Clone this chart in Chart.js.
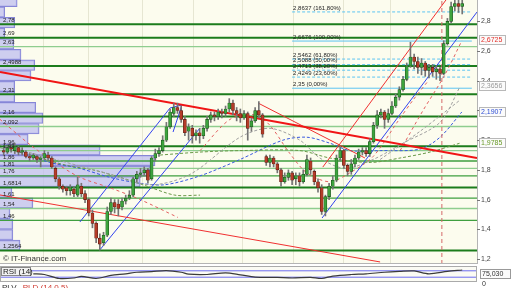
<!DOCTYPE html>
<html>
<head>
<meta charset="utf-8">
<script src="https://cdn.jsdelivr.net/npm/chart.js@4.4.0/dist/chart.umd.min.js"></script>
<style>
html, body { margin: 0; padding: 0; width: 512px; height: 288px; overflow: hidden; background: #fff; font-family: "Liberation Sans", Arial, sans-serif; }
#main { position: absolute; left: 0; top: 0; }
#rsi { position: absolute; left: 0; top: 266px; }
#foot { position: absolute; left: 2px; top: 283px; font-size: 8px; color: #333; white-space: nowrap; }
#foot span { color: #d03a30; margin-left: 4px; }
</style>
</head>
<body>
<canvas id="main" width="512" height="264"></canvas>
<canvas id="rsi" width="512" height="22"></canvas>
<div id="foot">PLV <span>PLD (14,0,5)</span></div>
<script>
// candles, one per session
const candleOpen = [
  1.93, 1.92, 1.95, 1.93, 1.95, 1.92, 1.92, 1.89, 1.88, 1.89,
  1.87, 1.88, 1.90, 1.88, 1.81, 1.74, 1.69, 1.68, 1.66, 1.67,
  1.63, 1.69, 1.64, 1.60, 1.51, 1.44, 1.34, 1.31, 1.36, 1.52,
  1.58, 1.57, 1.55, 1.59, 1.61, 1.63, 1.74, 1.77, 1.78, 1.80,
  1.74, 1.88, 1.91, 1.93, 2.00, 2.09, 2.18, 2.22, 2.20, 2.14,
  2.06, 2.08, 2.03, 2.05, 2.03, 2.08, 2.14, 2.17, 2.16, 2.19,
  2.18, 2.21, 2.25, 2.20, 2.18, 2.15, 2.18, 2.09, 2.13, 2.20,
  2.17, 1.89, 1.85, 1.88, 1.84, 1.80, 1.72, 1.75, 1.78, 1.74,
  1.76, 1.72, 1.77, 1.86, 1.79, 1.72, 1.68, 1.52, 1.62, 1.69,
  1.73, 1.88, 1.93, 1.83, 1.79, 1.84, 1.88, 1.92, 1.93, 1.91,
  1.99, 2.10, 2.17, 2.19, 2.14, 2.18, 2.23, 2.29, 2.34, 2.41,
  2.50, 2.56, 2.53, 2.49, 2.52, 2.47, 2.49, 2.46, 2.48, 2.45,
  2.65, 2.80, 2.90, 2.92, 2.90
];
const candleClose = [
  1.92, 1.95, 1.94, 1.96, 1.92, 1.93, 1.89, 1.88, 1.90, 1.87,
  1.88, 1.91, 1.88, 1.82, 1.74, 1.69, 1.67, 1.66, 1.68, 1.64,
  1.70, 1.64, 1.60, 1.51, 1.44, 1.34, 1.30, 1.36, 1.52, 1.58,
  1.55, 1.54, 1.59, 1.61, 1.63, 1.74, 1.77, 1.78, 1.80, 1.73,
  1.88, 1.91, 1.93, 2.00, 2.09, 2.19, 2.22, 2.20, 2.14, 2.05,
  2.09, 2.03, 2.05, 2.03, 2.08, 2.14, 2.17, 2.16, 2.19, 2.18,
  2.21, 2.25, 2.20, 2.18, 2.15, 2.18, 2.08, 2.13, 2.20, 2.17,
  2.04, 1.85, 1.88, 1.84, 1.80, 1.72, 1.75, 1.78, 1.73, 1.76,
  1.72, 1.77, 1.87, 1.80, 1.72, 1.68, 1.52, 1.62, 1.69, 1.73,
  1.88, 1.93, 1.83, 1.79, 1.84, 1.88, 1.92, 1.93, 1.91, 1.99,
  2.10, 2.17, 2.19, 2.14, 2.18, 2.23, 2.29, 2.34, 2.41, 2.50,
  2.56, 2.53, 2.49, 2.52, 2.47, 2.49, 2.46, 2.48, 2.45, 2.65,
  2.80, 2.90, 2.92, 2.90, 2.92
];
const candleHigh = [
  1.95, 1.96, 1.97, 1.98, 1.96, 1.95, 1.93, 1.91, 1.91, 1.90,
  1.89, 1.93, 1.92, 1.89, 1.82, 1.75, 1.70, 1.69, 1.70, 1.69,
  1.75, 1.71, 1.66, 1.61, 1.53, 1.45, 1.37, 1.38, 1.55, 1.61,
  1.60, 1.60, 1.61, 1.63, 1.66, 1.75, 1.79, 1.81, 1.82, 1.81,
  1.89, 1.94, 1.95, 2.03, 2.12, 2.21, 2.25, 2.25, 2.23, 2.16,
  2.11, 2.10, 2.07, 2.08, 2.10, 2.16, 2.19, 2.19, 2.21, 2.21,
  2.23, 2.28, 2.27, 2.22, 2.21, 2.20, 2.19, 2.15, 2.22, 2.26,
  2.18, 1.90, 1.90, 1.89, 1.85, 1.81, 1.78, 1.80, 1.79, 1.78,
  1.78, 1.80, 1.90, 1.88, 1.80, 1.74, 1.70, 1.63, 1.71, 1.76,
  1.90, 1.96, 1.94, 1.84, 1.87, 1.90, 1.94, 1.95, 1.95, 2.01,
  2.12, 2.20, 2.21, 2.20, 2.21, 2.26, 2.31, 2.36, 2.43, 2.52,
  2.66, 2.58, 2.56, 2.55, 2.53, 2.51, 2.51, 2.50, 2.49, 2.67,
  2.82, 2.93, 2.95, 2.96, 2.95
];
const candleLow = [
  1.90, 1.91, 1.92, 1.91, 1.90, 1.90, 1.88, 1.86, 1.87, 1.85,
  1.82, 1.87, 1.86, 1.81, 1.72, 1.67, 1.65, 1.63, 1.63, 1.62,
  1.62, 1.62, 1.58, 1.49, 1.41, 1.31, 1.26, 1.29, 1.35, 1.50,
  1.51, 1.49, 1.53, 1.57, 1.60, 1.62, 1.72, 1.75, 1.76, 1.71,
  1.73, 1.86, 1.89, 1.92, 1.99, 2.08, 2.16, 2.18, 2.12, 2.03,
  2.00, 1.98, 2.00, 1.98, 2.01, 2.06, 2.12, 2.13, 2.14, 2.15,
  2.16, 2.19, 2.17, 2.13, 2.12, 2.14, 2.00, 2.06, 2.12, 2.15,
  2.02, 1.83, 1.82, 1.82, 1.78, 1.69, 1.71, 1.73, 1.70, 1.70,
  1.69, 1.71, 1.76, 1.77, 1.70, 1.65, 1.50, 1.49, 1.60, 1.67,
  1.72, 1.86, 1.81, 1.76, 1.77, 1.82, 1.87, 1.90, 1.89, 1.89,
  1.98, 2.08, 2.15, 2.08, 2.12, 2.17, 2.22, 2.27, 2.33, 2.40,
  2.49, 2.48, 2.45, 2.44, 2.43, 2.42, 2.43, 2.41, 2.40, 2.44,
  2.64, 2.79, 2.87, 2.86, 2.85
];

// volume at price (left histogram)
const volPrices = [1.292, 1.363, 1.435, 1.506, 1.577, 1.649, 1.720, 1.791, 1.863, 1.934, 2.005, 2.077,
                   2.148, 2.220, 2.291, 2.362, 2.434, 2.505, 2.577, 2.648, 2.720, 2.791, 2.863, 2.934];
const volAmounts = [4.2, 2.7, 2.7, 2.1, 6.9, 2.5, 29.4, 31.4, 32.5, 21, 5.9, 8.2,
                    9, 7.5, 3.1, 3.1, 6.5, 7.3, 4.4, 2.9, 1, 3.1, 1, 3.6];

// horizontal support / resistance levels
const levelThick = [2.78, 2.69, 2.4988, 2.31, 2.16, 1.96, 1.6814, 1.2564];
const levelMid = [1.86, 1.76, 1.61, 1.46];
const levelLight = [2.63, 2.092, 1.93, 1.81, 1.54];

// fibonacci retracement
const fibValues = [2.8637, 2.6676, 2.5462, 2.5088, 2.4713, 2.4249, 2.35];
const fibPercents = ['161,80%', '100,00%', '61,80%', '50,00%', '38,20%', '23,60%', '0,00%'];
const fibSpan = [78, 126.6];

// trend lines [session, price]
const trendRedMain = [[-1, 2.459], [128, 1.880]];
const trendRedLow = [[-1, 1.631], [101.8, 1.180]];
const trendRedPeak = [[68.8, 2.250], [97.7, 1.880]];
const trendRedSteep = [[86.3, 1.819], [119.6, 2.944]];
const trendBlueLow = [[26.0, 1.261], [53.1, 2.082]];
const trendBlueHigh = [[20.6, 1.449], [45.0, 2.217]];
const trendBlueTip = [[45.0, 2.217], [48.2, 2.237], [45.8, 2.055]];
const trendBlueRight = [[86.1, 1.476], [128, 2.863]];

// dashed indicator curves
const curveBlue = [[4.4, 1.92], [12.5, 1.85], [20.6, 1.81], [28.7, 1.75], [36.9, 1.71], [43.6, 1.70], [53.1, 1.76], [63.9, 1.87],
                   [75.5, 2.00], [82, 2.02], [88.2, 1.98], [93.6, 1.93], [101.8, 1.93], [112.6, 1.94], [118, 2.02], [123.9, 2.19]];
const curveGreenA = [[-1, 1.95], [7.1, 1.90], [17.1, 1.83], [24.1, 1.80], [31.5, 1.75], [38.8, 1.69], [46.3, 1.63], [53.1, 1.63]];
const curveGreenB = [[42.3, 1.90], [53.1, 1.92], [63.9, 1.93], [80.1, 1.93], [88.2, 1.88], [99.1, 1.85], [107.2, 1.88], [115.3, 1.92], [123.4, 1.98]];
const curveGrayA = [[-1, 1.97], [12.5, 1.88], [26, 1.79], [39.6, 1.70], [50.4, 1.77], [63.9, 2.02], [72, 2.08], [80.1, 2.00],
                    [85.5, 1.88], [92.3, 1.81], [99.9, 1.87], [108, 1.98], [118, 2.12], [123.4, 2.36]];
const curveGrayB = [[101.8, 1.87], [112.6, 2.06], [123.4, 2.27]];
const curveRedA = [[-1, 2.14], [7.1, 1.97], [13.9, 1.85], [20.6, 1.75], [28.7, 1.68], [36.9, 1.60], [47.1, 1.48]];
const curveRedB = [[53.1, 1.93], [61.2, 2.14], [68, 2.17], [72, 2.10], [77.4, 1.91], [82, 1.78], [88.2, 1.72], [93.6, 1.78],
                   [99.9, 1.89], [106.4, 2.12], [110.7, 2.27], [114.5, 2.39]];
const curveRedC = [[107.2, 1.93], [113.4, 2.20], [119.3, 2.44], [123.9, 2.67]];

const markerSession = 118.5;
const gridMarks = [10.6, 22.8, 37.4, 51.2, 64.4, 78.2, 91.8, 104.5];

// right axis
const axisTicks = [1.2, 1.4, 1.6, 1.8, 2.0, 2.2, 2.4, 2.6, 2.8];
const markerValues = [2.6725, 2.3656, 2.1907, 1.9785];

// RSI (14)
const rsiX = [8, 11, 15, 19, 21, 25, 29, 33, 36, 40, 44, 48, 50, 55, 60, 64, 68, 74, 78, 83, 86, 89, 94, 98, 103, 107, 111, 115, 120, 124];
const rsiValues = [51, 47, 22, 25, 35, 22, 41, 51, 61, 65, 71, 61, 49, 47, 57, 45, 31, 29, 25, 29, 22, 37, 47, 51, 61, 66, 69, 51, 66, 75];
const rsiBands = [70, 30];
const rsiLast = 75.03;

const X_MIN = -1, X_MAX = 128, Y_MIN = 1.1663, Y_MAX = 2.944;
const comma = v => String(v).replace('.', ',');
const pts = arr => arr.map(([x, y]) => ({ x, y }));

function lineDs(data, color, width, dash, order, tension) {
  return {
    type: 'line', data: pts(data), borderColor: color, borderWidth: width,
    borderDash: dash || [], pointRadius: 0, fill: false, tension: tension || 0,
    order: order, xAxisID: 'x', yAxisID: 'y'
  };
}

const datasets = [];
datasets.push({
  type: 'bar', indexAxis: 'y', xAxisID: 'xv', yAxisID: 'yv',
  data: volPrices.map((p, i) => ({ x: volAmounts[i], y: p })),
  backgroundColor: 'rgba(188,188,240,0.72)', borderColor: '#8686d6', borderWidth: 1,
  barPercentage: 1, categoryPercentage: 1, grouped: false, order: 10
});
levelLight.forEach(v => datasets.push(lineDs([[X_MIN, v], [X_MAX, v]], '#8fcd8f', 1.4, null, 9)));
levelMid.forEach(v => datasets.push(lineDs([[X_MIN, v], [X_MAX, v]], '#3f9f3f', 1.3, null, 9)));
levelThick.forEach(v => datasets.push(lineDs([[X_MIN, v], [X_MAX, v]], '#1c7c1c', 2, null, 9)));
fibValues.forEach((v, i) => {
  const solid = fibPercents[i] === '100,00%' || fibPercents[i] === '0,00%';
  datasets.push(lineDs([[fibSpan[0], v], [fibSpan[1], v]], '#5cc4f2', 1, solid ? null : [3, 2], 8));
});
datasets.push(lineDs(curveGrayA, '#a0a0a0', 1, [3, 2], 7, 0.3));
datasets.push(lineDs(curveGrayB, '#a0a0a0', 1, [3, 2], 7, 0.3));
datasets.push(lineDs(curveGreenA, '#6a9a48', 1, [3, 2], 7, 0.3));
datasets.push(lineDs(curveGreenB, '#6a9a48', 1, [3, 2], 7, 0.3));
datasets.push(lineDs(curveBlue, '#3a5ae0', 1, [3, 2], 7, 0.3));
datasets.push(lineDs(curveRedA, '#e36060', 1, [3, 3], 7, 0.3));
datasets.push(lineDs(curveRedB, '#e36060', 1, [3, 3], 7, 0.3));
datasets.push(lineDs(curveRedC, '#e36060', 1, [3, 3], 7, 0.3));
datasets.push(lineDs([[markerSession, Y_MIN], [markerSession, Y_MAX]], '#d46a6a', 1, [4, 3], 6));
datasets.push(lineDs(trendRedLow, '#f03030', 1, null, 5));
datasets.push(lineDs(trendRedPeak, '#f03030', 1, null, 5));
datasets.push(lineDs(trendRedSteep, '#f03030', 1, null, 5));
datasets.push(lineDs(trendBlueLow, '#3344ee', 1, null, 5));
datasets.push(lineDs(trendBlueHigh, '#3344ee', 1, null, 5));
datasets.push(lineDs(trendBlueTip, '#3344ee', 1, null, 5));
datasets.push(lineDs(trendBlueRight, '#3344ee', 1, null, 5));
datasets.push(lineDs(trendRedMain, '#f01515', 2, null, 4));

const idx = candleOpen.map((_, i) => i);
const isUp = i => candleClose[i] >= candleOpen[i];
datasets.push({
  type: 'bar', xAxisID: 'x', yAxisID: 'y',
  data: idx.map(i => ({ x: i, y: [candleLow[i], candleHigh[i]] })),
  backgroundColor: '#747474', barThickness: 1, grouped: false, order: 2
});
datasets.push({
  type: 'bar', xAxisID: 'x', yAxisID: 'y',
  data: idx.map(i => ({ x: i, y: [Math.min(candleOpen[i], candleClose[i]), Math.max(candleOpen[i], candleClose[i])] })),
  backgroundColor: c => isUp(c.dataIndex) ? '#3da33d' : '#b43c28',
  borderColor: c => isUp(c.dataIndex) ? '#1a4f1a' : '#5a1a10',
  borderWidth: 0.6, borderSkipped: false, barThickness: 3, minBarLength: 1, grouped: false, order: 1
});

const mainOverlay = {
  id: 'mainOverlay',
  beforeDatasetsDraw(chart) {
    const { ctx, chartArea: a, scales } = chart;
    ctx.save();
    ctx.fillStyle = '#fcfcee';
    ctx.fillRect(a.left, a.top, a.right - a.left, a.bottom - a.top);
    ctx.strokeStyle = '#e6e6d2';
    ctx.lineWidth = 1;
    gridMarks.forEach(v => {
      const px = Math.round(scales.x.getPixelForValue(v)) + 0.5;
      ctx.beginPath(); ctx.moveTo(px, a.top); ctx.lineTo(px, a.bottom); ctx.stroke();
    });
    ctx.restore();
  },
  afterDatasetsDraw(chart) {
    const { ctx, chartArea: a, scales } = chart;
    const y = scales.y;
    ctx.save();
    // level labels on the left
    ctx.font = '6px "Liberation Sans", Arial, sans-serif';
    ctx.fillStyle = '#222';
    ctx.textBaseline = 'bottom';
    ctx.textAlign = 'left';
    [...levelThick, ...levelMid, ...levelLight].forEach(v => {
      ctx.fillText(comma(v), 3, y.getPixelForValue(v) - 1);
    });
    // fibonacci labels
    const fx = scales.x.getPixelForValue(fibSpan[0]) + 1;
    fibValues.forEach((v, i) => {
      ctx.fillText(comma(v) + ' (' + fibPercents[i] + ')', fx, y.getPixelForValue(v) - 1);
    });
    // copyright
    ctx.font = '8px "Liberation Sans", Arial, sans-serif';
    ctx.fillStyle = '#333';
    ctx.textBaseline = 'middle';
    ctx.fillText('\u00a9 IT-Finance.com', 3, a.bottom - 5);
    // frame + right axis
    ctx.strokeStyle = '#b4b4b4';
    ctx.lineWidth = 1;
    ctx.beginPath();
    ctx.moveTo(a.right + 0.5, a.top); ctx.lineTo(a.right + 0.5, a.bottom);
    ctx.moveTo(a.left, a.bottom - 0.5); ctx.lineTo(a.right, a.bottom - 0.5);
    ctx.stroke();
    ctx.font = '7px "Liberation Sans", Arial, sans-serif';
    ctx.fillStyle = '#444';
    ctx.strokeStyle = '#777';
    axisTicks.forEach(v => {
      const py = Math.round(y.getPixelForValue(v)) + 0.5;
      ctx.beginPath(); ctx.moveTo(a.right, py); ctx.lineTo(a.right + 3, py); ctx.stroke();
      ctx.fillText(v.toFixed(1).replace('.', ','), a.right + 4, py);
    });
    const markerColors = ['#e3302a', '#9a9a9a', '#2f4fd4', '#6a9a2a'];
    markerValues.forEach((v, i) => {
      const py = Math.round(y.getPixelForValue(v));
      ctx.fillStyle = '#fbfbfb';
      ctx.fillRect(a.right + 2, py - 4.5, 26, 9);
      ctx.strokeStyle = '#b8b8b8';
      ctx.strokeRect(a.right + 2.5, py - 4.5, 26, 9);
      ctx.fillStyle = markerColors[i];
      ctx.fillText(comma(v), a.right + 4, py);
    });
    ctx.restore();
  }
};

new Chart(document.getElementById('main'), {
  type: 'line',
  data: { datasets },
  options: {
    responsive: false, animation: false, devicePixelRatio: 1,
    layout: { padding: { left: 0, right: 35, top: 0, bottom: 0 } },
    plugins: { legend: { display: false }, tooltip: { enabled: false } },
    scales: {
      x: { type: 'linear', min: X_MIN, max: X_MAX, offset: false, display: false },
      xv: { type: 'linear', min: 0, max: 100, offset: false, display: false },
      y: { type: 'linear', min: Y_MIN, max: Y_MAX, offset: false, display: false },
      yv: { type: 'linear', min: Y_MIN, max: Y_MAX, offset: false, display: false }
    }
  },
  plugins: [mainOverlay]
});

const rsiOverlay = {
  id: 'rsiOverlay',
  beforeDatasetsDraw(chart) {
    const { ctx, chartArea: a } = chart;
    ctx.save();
    ctx.fillStyle = '#fbfbf4';
    ctx.fillRect(a.left, a.top, a.right - a.left, a.bottom - a.top);
    ctx.restore();
  },
  afterDatasetsDraw(chart) {
    const { ctx, chartArea: a, scales } = chart;
    ctx.save();
    ctx.strokeStyle = '#aaa';
    ctx.lineWidth = 1;
    ctx.strokeRect(a.left + 0.5, a.top + 0.5, a.right - a.left - 1, a.bottom - a.top - 1);
    ctx.fillStyle = '#f2f2f2';
    ctx.fillRect(a.left + 1, a.top + 1, 29, 8);
    ctx.strokeStyle = '#888';
    ctx.strokeRect(a.left + 1.5, a.top + 1.5, 29, 8);
    ctx.font = '8px "Liberation Sans", Arial, sans-serif';
    ctx.fillStyle = '#222';
    ctx.textBaseline = 'middle';
    ctx.fillText('RSI (14)', a.left + 3, a.top + 5.5);
    const py = scales.y.getPixelForValue(rsiLast);
    ctx.fillStyle = '#fbfbfb';
    ctx.fillRect(a.right + 3, py - 1, 30, 9);
    ctx.strokeStyle = '#999';
    ctx.strokeRect(a.right + 3.5, py - 0.5, 30, 9);
    ctx.font = '7px "Liberation Sans", Arial, sans-serif';
    ctx.fillStyle = '#333';
    ctx.fillText(comma(rsiLast.toFixed(3)), a.right + 5, py + 4);
    ctx.fillText('0', a.right + 5, scales.y.getPixelForValue(0) + 2);
    ctx.restore();
  }
};

new Chart(document.getElementById('rsi'), {
  type: 'line',
  data: {
    datasets: [
      { data: rsiX.map((x, i) => ({ x, y: rsiValues[i] })), borderColor: '#3a3a3a', borderWidth: 1.2, pointRadius: 0, tension: 0.3 },
      ...rsiBands.map(b => ({ data: [{ x: X_MIN, y: b }, { x: X_MAX, y: b }], borderColor: '#6b6bef', borderWidth: 1, pointRadius: 0 }))
    ]
  },
  options: {
    responsive: false, animation: false, devicePixelRatio: 1,
    layout: { padding: { left: 0, right: 35, top: 0, bottom: 6 } },
    plugins: { legend: { display: false }, tooltip: { enabled: false } },
    scales: {
      x: { type: 'linear', min: X_MIN, max: X_MAX, display: false },
      y: { type: 'linear', min: 0, max: 100, display: false }
    }
  },
  plugins: [rsiOverlay]
});
</script>
</body>
</html>
